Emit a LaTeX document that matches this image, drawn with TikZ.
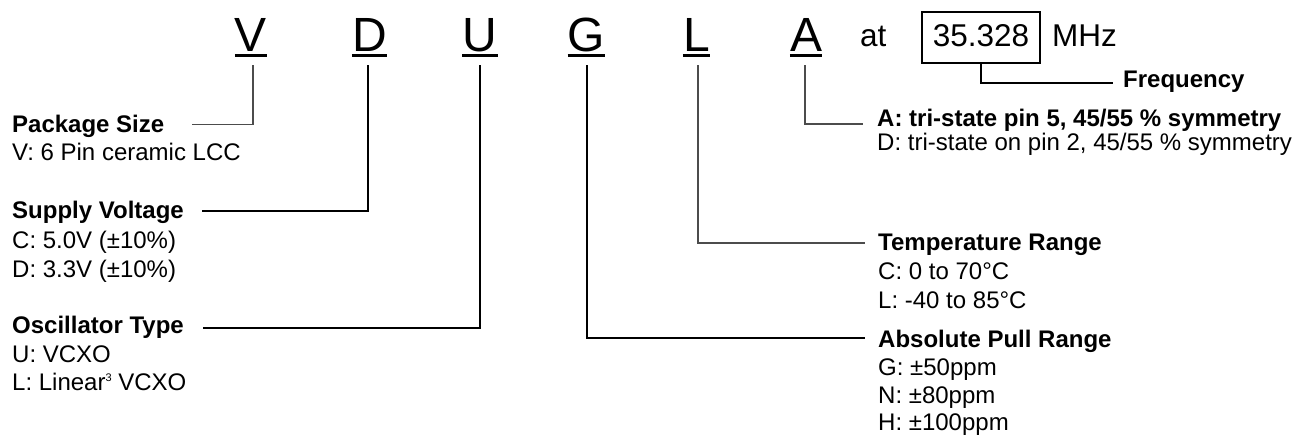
\documentclass[tikz,border=0pt]{standalone}
\usepackage{fontspec}
\setmainfont{Liberation Sans}
\begin{document}
\begin{tikzpicture}[x=1pt,y=-1pt,
  big/.style={font=\fontsize{48}{48}\selectfont, inner sep=0pt, anchor=base},
  mid/.style={font=\fontsize{31.5}{31.5}\selectfont, inner sep=0pt},
  head/.style={font=\fontsize{24}{28}\selectfont\bfseries, inner sep=0pt, anchor=base west},
  body/.style={font=\fontsize{24}{28}\selectfont, inner sep=0pt, anchor=base west},
  uline/.style={line width=3.2pt},
  conn/.style={line width=1.1pt, black},
  conng/.style={line width=1.1pt, black!70}]
\useasboundingbox (0,0) rectangle (1297,436);

% code letters
\node[big] (cV) at (251,52) {V};
\node[big] (cD) at (369.5,52) {D};
\node[big] (cU) at (480,52) {U};
\node[big] (cG) at (586.5,52) {G};
\node[big] (cL) at (696.5,52) {L};
\node[big] (cA) at (806,52) {A};
\foreach \n in {cV,cD,cU,cG,cL,cA}
  \draw[uline] ([yshift=-3.6pt]\n.base west) -- ([yshift=-3.6pt]\n.base east);

\node[mid, anchor=base west] (at) at (860,46) {at};
\node[mid, draw, line width=1.1pt, inner sep=0pt, minimum width=118pt,
      text height=34pt, text depth=17pt, anchor=base] (box) at (981,46) {35.328};
\node[mid, anchor=base west] (mhz) at (1052,46) {MHz};

% left labels
\node[head] (pkg) at (12,132) {Package Size};
\node[body] (pkg1) at (12,160) {V: 6 Pin ceramic LCC};

\node[head] (sup) at (12,218) {Supply Voltage};
\node[body] (sup1) at (12,248) {C: 5.0V (±10\%)};
\node[body] (sup2) at (12,277) {D: 3.3V (±10\%)};

\node[head] (osc) at (12,333) {Oscillator Type};
\node[body] (osc1) at (12,362) {U: VCXO};
\node[body] (osc2) at (12,390) {L: Linear{\fontsize{11}{11}\selectfont\raisebox{8.5pt}{3}} VCXO};

% right labels
\node[head] (freq) at (1123,87) {Frequency};

\node[head] (out) at (877,126) {A: tri-state pin 5, 45/55 \% symmetry};
\node[body] (out1) at (877,150) {D: tri-state on pin 2, 45/55 \% symmetry};

\node[head] (tmp) at (878,250) {Temperature Range};
\node[body] (tmp1) at (878,279) {C: 0 to 70°C};
\node[body] (tmp2) at (878,308) {L: -40 to 85°C};

\node[head] (pull) at (878,347) {Absolute Pull Range};
\node[body] (pull1) at (878,375) {G: ±50ppm};
\node[body] (pull2) at (878,403) {N: ±80ppm};
\node[body] (pull3) at (878,430) {H: ±100ppm};

% connector coordinates
\coordinate (tV) at (253,65);
\coordinate (tD) at (368,65);
\coordinate (tU) at (480,65);
\coordinate (tG) at (587,65);
\coordinate (tL) at (698,65);
\coordinate (tA) at (805,65);
\coordinate (ePkg) at (192,124.5);
\coordinate (eSup) at (202,211);
\coordinate (eOsc) at (203,328);
\coordinate (eOut) at (863,124);
\coordinate (eTmp) at (865,243);
\coordinate (ePull) at (865,338);
\coordinate (eFreq) at (1113,83);

\draw[conng] (tV) |- (ePkg);
\draw[conn] (tD) |- (eSup);
\draw[conn] (tU) |- (eOsc);
\draw[conn] (tG) |- (ePull);
\draw[conng] (tL) |- (eTmp);
\draw[conng] (tA) |- (eOut);
\draw[conn] (box.south) |- (eFreq);
\end{tikzpicture}
\end{document}
